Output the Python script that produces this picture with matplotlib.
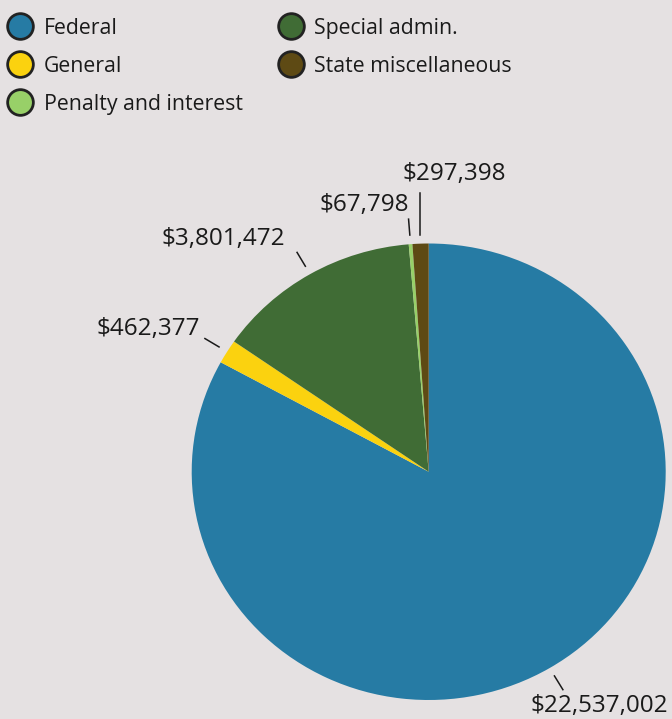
import matplotlib
matplotlib.use("Agg")
import matplotlib.pyplot as plt
from matplotlib.lines import Line2D
import numpy as np

categories = ["Federal", "General", "Special admin.", "Penalty and interest", "State miscellaneous"]
amounts = [22537002, 462377, 3801472, 67798, 297398]
colors = ["#267BA4", "#FBD20F", "#406C35", "#98D068", "#5E4A14"]
legend_order = ["Federal", "General", "Penalty and interest", "Special admin.", "State miscellaneous"]

BG = "#E5E1E2"
TEXT = "#1A1A1A"

plt.rcParams["font.family"] = ["Open Sans", "DejaVu Sans"]

PX = 72 / 100  # pixel -> point at dpi 100

# label placement: leader style, text offset from leader end (px), alignment
label_layout = {
    "Federal": ("radial", (-32, -16), "left"),
    "General": ("radial", (-5, 10), "right"),
    "Special admin.": ("radial", (-12, 13), "right"),
    "Penalty and interest": ("radial", (0, 14), "right"),
    "State miscellaneous": ("vertical", (34, 19), "center"),
}

fig = plt.figure(figsize=(6.72, 7.19), dpi=100, facecolor=BG)
ax = fig.add_axes([191.7 / 672, 19 / 719, 474 / 672, 456.5 / 719])
ax.set_facecolor(BG)
wedges, _ = ax.pie(amounts, colors=colors, startangle=90, counterclock=False,
                   radius=1, wedgeprops=dict(linewidth=0))
ax.set_aspect("auto")
ax.set_xlim(-1, 1)
ax.set_ylim(-1, 1)
ax.axis("off")

for w, name, val in zip(wedges, categories, amounts):
    mid = np.deg2rad((w.theta1 + w.theta2) / 2)
    kind, (dx, dy), ha = label_layout[name]
    x0, y0 = 1.04 * np.cos(mid), 1.04 * np.sin(mid)
    if kind == "radial":
        x1, y1 = 1.11 * np.cos(mid), 1.11 * np.sin(mid)
    else:
        x1, y1 = x0, 1.22
    ax.plot([x0, x1], [y0, y1], color=TEXT, lw=1.1, clip_on=False)
    ax.annotate(f"${val:,}", xy=(x1, y1), xytext=(dx * PX, dy * PX),
                textcoords="offset points", ha=ha, va="center",
                fontsize=17.5, color=TEXT, annotation_clip=False)

color_of = dict(zip(categories, colors))
handles = [Line2D([], [], marker="o", linestyle="", markersize=18.5,
                  markerfacecolor=color_of[n], markeredgecolor="#222222",
                  markeredgewidth=2) for n in legend_order]
fig.legend(handles, legend_order, loc="upper left",
           bbox_to_anchor=(-3 / 672, 1 - 5 / 719),
           ncol=2, frameon=False, fontsize=15.3, handlelength=1.0,
           handletextpad=0.6, columnspacing=1.75, labelspacing=0.8,
           borderaxespad=0.2, labelcolor=TEXT)

fig.savefig("out.png", dpi=100, facecolor=BG)
